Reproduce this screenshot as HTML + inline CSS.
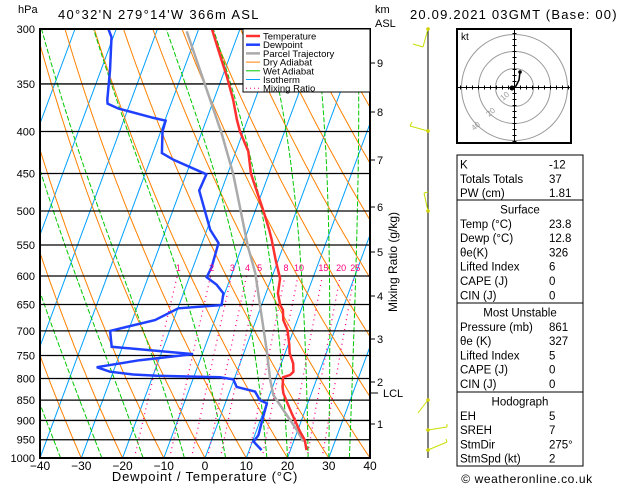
<!DOCTYPE html>
<html><head><meta charset="utf-8"><style>
body{margin:0;background:#fff;width:629px;height:486px;overflow:hidden}
svg{display:block;font-family:"Liberation Sans",sans-serif}
</style></head><body>
<svg id="s" width="629" height="486" viewBox="0 0 629 486">
<defs><clipPath id="cp"><rect x="40" y="29" width="330" height="429"/></clipPath></defs>
<g id="bg" clip-path="url(#cp)"></g>
<g id="series" clip-path="url(#cp)"></g>
<g id="grid"></g>
<rect x="40" y="29" width="330" height="429" fill="none" stroke="#000" stroke-width="2"/>
<g id="axes" font-size="11"></g>
<text x="18" y="13" font-size="11">hPa</text>
<text x="58" y="19" font-size="13" letter-spacing="1.3">40°32'N  279°14'W  366m  ASL</text>
<text x="375" y="13" font-size="11">km</text>
<text x="375" y="27" font-size="11">ASL</text>
<text x="410" y="19" font-size="13" letter-spacing="1.2">20.09.2021 03GMT (Base: 00)</text>
<text x="205" y="481" font-size="13" letter-spacing="0.8" text-anchor="middle">Dewpoint / Temperature (°C)</text>
<text transform="translate(397,262) rotate(-90)" font-size="12" text-anchor="middle">Mixing Ratio (g/kg)</text>
<g id="legend">
<rect x="243" y="29" width="127" height="63" fill="#fff" stroke="#000" stroke-width="1"/>
</g>
<g id="wind"></g>
<g id="hodo"></g>
<g id="table" font-size="11.5"></g>
<text x="527" y="483" font-size="12" letter-spacing="0.6" text-anchor="middle">© weatheronline.co.uk</text>
</svg>
<script>
// ---- data ----
const tempP=[300,318,343,366,387,400,423,450,499,527,542,574,604,630,651,660,679,698,728,745,767,785,792,797,819,834,854,882,929,951,978];
const tempT=[-36.8,-33.4,-28.9,-25.3,-22.6,-20.8,-17.0,-14.4,-8.1,-4.9,-3.4,-0.6,2.1,2.9,4.5,5.6,6.6,8.5,10.3,11.1,12.9,13.7,13.2,11.7,12.4,13.2,14.8,17.0,20.7,22.6,23.9];
const dewP=[300,307,337,366,370,375,385,388,400,425,433,451,472,527,547,585,602,615,630,651,657,679,700,732,747,760,775,785,791,794,797,802,819,830,850,858,891,938,955,978];
const dewT=[-61.9,-60.4,-57.8,-55.8,-55.4,-52.4,-43.0,-39.8,-39.6,-37.8,-34.4,-25.1,-25.4,-19.2,-16.0,-15.5,-15.8,-12.7,-10.3,-9.7,-19.9,-24.5,-34.4,-32.6,-12.2,-24.6,-34.4,-30.8,-24.9,-19.1,-3.6,-0.2,1.3,6.2,8.1,10.1,10.4,10.9,10.3,13.0];
const parcelP=[302,349,402,450,553,595,654,739,803,838,874,924,955];
const parcelT=[-42.7,-33.8,-25.1,-18.7,-8.5,-4.4,-0.2,5.3,8.8,10.9,14.7,19.7,22.4];
const pressureTicks=[300,350,400,450,500,550,600,650,700,750,800,850,900,950,1000];
const tempTicks=[-40,-30,-20,-10,0,10,20,30,40];
const kmTicks=[1,2,3,4,5,6,7,8,9];
const kmY=[424,382,339,296,252,207,160,112,63];
const mixRatios=[1,2,3,4,5,8,10,15,20,25];
// ---- axes ----
const NS="http://www.w3.org/2000/svg";
function Y(p){return 458-429*Math.log(1000/p)/Math.log(1000/300);}
function X(T,p){return 205+4.125*T+0.37*(458-Y(p));}
function mk(tag,attrs,parent){const e=document.createElementNS(NS,tag);for(const k in attrs)e.setAttribute(k,attrs[k]);parent.appendChild(e);return e;}
const bg=document.getElementById('bg'),grid=document.getElementById('grid'),ser=document.getElementById('series'),ax=document.getElementById('axes');
function poly(pts,attrs,parent){return mk('polyline',Object.assign({points:pts.map(q=>q[0].toFixed(1)+','+q[1].toFixed(1)).join(' '),fill:'none'},attrs),parent);}
for(let T=-120;T<=40;T+=10){const l=poly([[X(T,1000),Y(1000)],[X(T,300),Y(300)]],{stroke:'#00a0ff','stroke-width':1},bg);

}
for(let th=183.15;th<=523.15;th+=10){const pts=[];for(let p=1000;p>=300;p-=10){pts.push([X(th*Math.pow(p/1000,0.2857)-273.15,p),Y(p)]);}
const l=poly(pts,{stroke:'#ff8000','stroke-width':1},bg);

}
function es(T){return 6.112*Math.exp(17.67*T/(T+243.5));}
[-35,-25,-15,-5,5,15,20,25,30,35].forEach(T0=>{let T=T0+273.15;const pts=[];for(let p=1000;p>=300;p-=2){pts.push([X(T-273.15,p),Y(p)]);
const rs=0.622*es(T-273.15)/(p-es(T-273.15));const Lv=2.5e6,Rd=287,cp=1004;
const dTdp=(Rd*T+Lv*rs)/(p*(cp+Lv*Lv*rs*0.622/(Rd*T*T)));T-=dTdp*2;}
const l=poly(pts,{stroke:'#00c800','stroke-width':1,'stroke-dasharray':'5,2'},bg);

});
mixRatios.forEach(w=>{const pts=[];for(let p=1000;p>=600;p-=10){const e=w*p/(622+w);const a=Math.log(e/6.112);pts.push([X(243.5*a/(17.67-a),p),Y(p)]);}
const l=poly(pts,{stroke:'#ff0080','stroke-width':1.3,'stroke-dasharray':'1,4'},bg);


const t=mk('text',{x:pts[pts.length-1][0]+1,y:Y(600)-5,'font-size':9,fill:'#ff0080','text-anchor':'middle'},grid);t.textContent=w;

});
pressureTicks.forEach(p=>{const l=mk('line',{x1:40,x2:370,y1:Y(p),y2:Y(p),stroke:'#000','stroke-width':1.3},bg);


const t=mk('text',{x:35,y:Y(p)+4,'text-anchor':'end'},ax);t.textContent=p;

});
tempTicks.forEach(T=>{const t=mk('text',{x:X(T,1000),y:470,'text-anchor':'middle','font-size':12},ax);t.textContent=T<0?'−'+(-T):T;

});
kmTicks.forEach((k,i)=>{mk('line',{x1:370,x2:375,y1:kmY[i],y2:kmY[i],stroke:'#000'},ax);
const t=mk('text',{x:377,y:kmY[i]+4},ax);t.textContent=k;

});
mk('line',{x1:370,x2:378,y1:393,y2:393,stroke:'#000'},ax);
{const t=mk('text',{x:383,y:397},ax);t.textContent='LCL';}
function line(P,T,c,w,name){const l=poly(P.map((p,i)=>[X(T[i],p),Y(p)]),{stroke:c,'stroke-width':w},ser);

}
line(parcelP,parcelT,'#aaaaaa',2.5,'parcel-trajectory-line');
line(dewP,dewT,'#2040ff',2.5,'dewpoint-line');
line(tempP,tempT,'#ff3030',2.5,'temperature-line');
const lg=document.getElementById('legend');
[['Temperature','#ff3030',''],['Dewpoint','#2040ff',''],['Parcel Trajectory','#aaaaaa',''],['Dry Adiabat','#ff8000',''],['Wet Adiabat','#00c800',''],['Isotherm','#00a0ff',''],['Mixing Ratio','#ff0080','1,3']].forEach((e,i)=>{const y=36+i*8.7;
const l=mk('line',{x1:246,x2:260,y1:y,y2:y,stroke:e[1],'stroke-width':i<3?2.5:1,'stroke-dasharray':e[2]||'none'},lg);


const t=mk('text',{x:263,y:y+3.5,'font-size':9.5},lg);t.textContent=e[0];

});
const wd=document.getElementById('wind');
mk('line',{x1:428,x2:428,y1:29,y2:458,stroke:'#000','stroke-width':1},wd);
[[29,[[428,29,423,47],[423,47,413,44]]],[131,[[428,131,410,126],[410,126,412,122]]],[211,[[428,211,424,193],[424,193,428,192]]],[400,[[428,400,418,413]]],[430,[[428,430,447,427],[447,427,447,424]]],[450,[[428,450,447,442],[447,442,446,439]]]].forEach(b=>{
mk('circle',{cx:428,cy:b[0],r:1.8,fill:'#d0d000'},wd);
b[1].forEach(s=>{mk('line',{x1:s[0],y1:s[1],x2:s[2],y2:s[3],stroke:'#c8e000','stroke-width':1},wd);});});
const hd=document.getElementById('hodo');
mk('rect',{x:457,y:29,width:114,height:114,fill:'#fff',stroke:'#000','stroke-width':2},hd);
[19,36,53].forEach(r=>mk('circle',{cx:514.5,cy:87.5,r:r,fill:'none',stroke:'#999'},hd));
mk('line',{x1:458,x2:570,y1:87.5,y2:87.5,stroke:'#000'},hd);mk('line',{x1:514.5,x2:514.5,y1:30,y2:142,stroke:'#000'},hd);
for(let i=-9;i<=9;i++){if(!i)continue;mk('line',{x1:514.5+i*6,x2:514.5+i*6,y1:85.5,y2:89.5,stroke:'#000'},hd);mk('line',{x1:512.5,x2:516.5,y1:87.5+i*6,y2:87.5+i*6,stroke:'#000'},hd);}
mk('polyline',{points:'511,88 516,86 519,80 520,72',fill:'none',stroke:'#000','stroke-width':1.5},hd);
mk('circle',{cx:520,cy:72,r:1.8,fill:'#000'},hd);mk('circle',{cx:512,cy:88,r:2.5,fill:'#000'},hd);
{const t=mk('text',{x:461,y:40,'font-size':10},hd);t.textContent='kt';}
[['10',503,101],['20',489,117],['40',474,131]].forEach(a=>{const t=mk('text',{x:a[1],y:a[2],'font-size':8,fill:'#999',transform:`rotate(-40 ${a[1]} ${a[2]})`},hd);t.textContent=a[0];});
const tb=document.getElementById('table');
const sections=[[155,200,null,[['K','-12'],['Totals Totals','37'],['PW (cm)','1.81']]],[200,303,'Surface',[['Temp (°C)','23.8'],['Dewp (°C)','12.8'],['θe(K)','326'],['Lifted Index','6'],['CAPE (J)','0'],['CIN (J)','0']]],[303,392,'Most Unstable',[['Pressure (mb)','861'],['θe (K)','327'],['Lifted Index','5'],['CAPE (J)','0'],['CIN (J)','0']]],[392,466,'Hodograph',[['EH','5'],['SREH','7'],['StmDir','275°'],['StmSpd (kt)','2']]]];
sections.forEach(s=>{mk('rect',{x:457,y:s[0],width:126,height:s[1]-s[0],fill:'#fff',stroke:'#000','stroke-width':1},tb);
let y=s[0]+13.5;
if(s[2]){const t=mk('text',{x:520,y:y,'text-anchor':'middle'},tb);t.textContent=s[2];y+=14.3;}
s[3].forEach(r=>{const a=mk('text',{x:460,y:y},tb);a.textContent=r[0];
const b=mk('text',{x:549,y:y},tb);b.textContent=r[1];y+=14.3;});});
</script>
</body></html>
